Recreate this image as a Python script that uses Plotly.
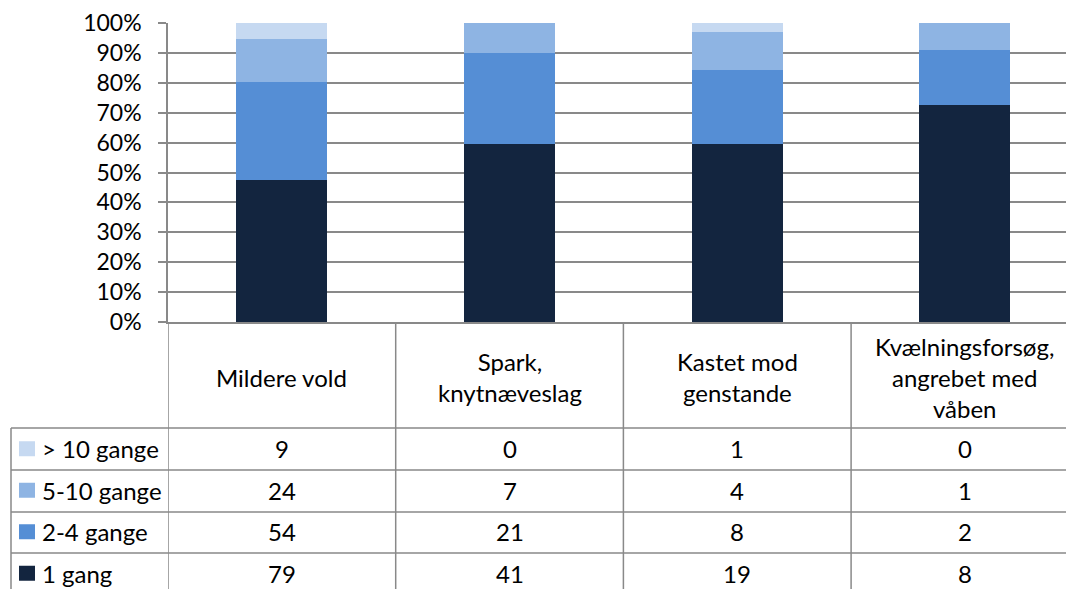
import plotly.graph_objects as go

categories = ["Mildere vold", "Spark, knytnæveslag", "Kastet mod genstande",
              "Kvælningsforsøg, angrebet med våben"]
header_labels = ["Mildere vold", "Spark,<br>knytnæveslag", "Kastet mod<br>genstande",
                 "Kvælningsforsøg,<br>angrebet med<br>våben"]
series_names = ["1 gang", "2-4 gange", "5-10 gange", "> 10 gange"]
gang_1 = [79, 41, 19, 8]
gange_2_4 = [54, 21, 8, 2]
gange_5_10 = [24, 7, 4, 1]
gange_over_10 = [9, 0, 1, 0]
series_values = [gang_1, gange_2_4, gange_5_10, gange_over_10]
colors = ["#13253F", "#558ED5", "#8EB4E3", "#C6D9F1"]

W, H = 1066, 589
L, T, B = 168, 23, 267
PW, PH = W - L, H - T - B
GRAY = "#898989"
FONT = "Lato"
FS = 24


def px_x(x):
    return (x - L) / PW


def px_y(y):
    return (T + PH - y) / PH


fig = go.Figure()
idx = list(range(len(categories)))
for name, vals, col in zip(series_names, series_values, colors):
    fig.add_trace(go.Bar(x=idx, y=vals, name=name, marker_color=col,
                         marker_line_width=0, showlegend=False))

cat_w = 227.7
fig.update_layout(
    width=W, height=H, barmode="stack", barnorm="percent", bargap=0.6,
    margin=dict(l=L, r=0, t=T, b=B, pad=0),
    plot_bgcolor="white", paper_bgcolor="white",
    font=dict(family=FONT, size=FS, color="black"),
    xaxis=dict(range=[-0.5, -0.5 + PW / cat_w], showticklabels=False, ticks="",
               showgrid=False, showline=True, linecolor=GRAY, linewidth=1.5,
               zeroline=False, fixedrange=True),
    yaxis=dict(range=[0, 100], dtick=10, ticksuffix="%", ticks="outside",
               ticklen=8, tickcolor=GRAY, tickwidth=1.5, showgrid=True,
               gridcolor=GRAY, gridwidth=1.5, showline=True, linecolor=GRAY,
               linewidth=1.5, zeroline=False, ticklabelstandoff=12,
               tickfont=dict(family=FONT, size=23), fixedrange=True),
)

shapes = []
line = dict(color=GRAY, width=1.5)
# vertical lines of the data table (category boundaries)
for i in range(len(categories)):
    shapes.append(dict(type="line", xref="x", yref="paper", x0=i - 0.5, x1=i - 0.5,
                       y0=0, y1=px_y(H + 5), line=line))
# left border of the legend column
row_tops = [428, 470, 512, 553]
shapes.append(dict(type="line", xref="paper", yref="paper", x0=px_x(11), x1=px_x(11),
                   y0=px_y(row_tops[0]), y1=px_y(H + 5), line=line))
for yt in row_tops:
    shapes.append(dict(type="line", xref="paper", yref="paper", x0=px_x(11), x1=1.01,
                       y0=px_y(yt), y1=px_y(yt), line=line))

annotations = []
for i, lab in enumerate(header_labels):
    annotations.append(dict(x=i, xref="x", y=px_y(377), yref="paper", text=lab,
                            showarrow=False, yanchor="middle", xanchor="center",
                            font=dict(family=FONT, size=FS)))

row_h = 41.5
table_order = list(reversed(range(len(series_names))))
for r, s in enumerate(table_order):
    yc = row_tops[0] + row_h * (r + 0.5)
    shapes.append(dict(type="rect", xref="paper", yref="paper",
                       x0=px_x(19), x1=px_x(35), y0=px_y(yc - 7.5), y1=px_y(yc + 7.5),
                       fillcolor=colors[s], line=dict(width=0)))
    annotations.append(dict(x=px_x(40), xref="paper", y=px_y(yc), yref="paper",
                            text=series_names[s], showarrow=False, xanchor="left",
                            yanchor="middle", font=dict(family=FONT, size=FS)))
    for i, v in enumerate(series_values[s]):
        annotations.append(dict(x=i, xref="x", y=px_y(yc), yref="paper", text=str(v),
                                showarrow=False, xanchor="center", yanchor="middle",
                                font=dict(family=FONT, size=FS)))

fig.update_layout(shapes=shapes, annotations=annotations)
fig.write_html("out.html", config={"displayModeBar": False},
               post_script="document.body.style.margin='0';"
                           "document.body.style.overflow='hidden';")
